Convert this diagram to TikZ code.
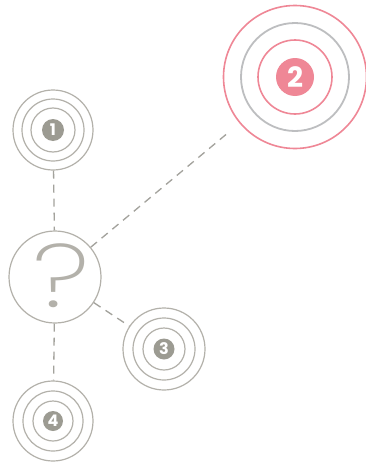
\documentclass[tikz,border=0pt]{standalone}
\usepackage{fontspec}
\setmainfont{Poppins}
\newfontfamily\qfont{Poppins ExtraLight}
\definecolor{ringgray}{HTML}{B3B1AA}
\definecolor{discgray}{HTML}{9C9B92}
\definecolor{pinkc}{HTML}{EF8796}
\definecolor{bluegray}{HTML}{BDBEC0}
\definecolor{dashgray}{HTML}{A3A29C}
\tikzset{
  ring/.style={circle, draw=ringgray, line width=1.2pt, inner sep=0pt, fill=none},
  disc/.style={circle, fill=discgray, inner sep=0pt, text=white, font=\bfseries\fontsize{16}{16}\selectfont},
  link/.style={draw=dashgray, line width=1.3pt, dash pattern=on 8pt off 6pt},
}
\begin{document}
\begin{tikzpicture}[x=1pt,y=-1pt]
\useasboundingbox[fill=white] (0,0) rectangle (365,463);
% node 1
\node[ring, minimum size=80pt] (n1) at (53,130) {};
\node[ring, minimum size=62pt] (n1b) at (53,130) {};
\node[ring, minimum size=44pt] (n1c) at (53,130) {};
\node[disc, minimum size=22pt] (n1d) at (53,130) {1};
% node 2
\node[circle, draw=pinkc, line width=1.6pt, inner sep=0pt, minimum size=143pt] (n2) at (295,77) {};
\node[circle, draw=bluegray, line width=1.8pt, inner sep=0pt, minimum size=108pt] (n2b) at (295,77) {};
\node[circle, draw=pinkc, line width=1.6pt, inner sep=0pt, minimum size=74pt] (n2c) at (295,77) {};
\node[circle, fill=pinkc, inner sep=0pt, minimum size=38pt, text=white, font=\bfseries\fontsize{28}{28}\selectfont] (n2d) at (295,77) {2};
% node 3
\node[ring, minimum size=82pt] (n3) at (164,349) {};
\node[ring, minimum size=62pt] (n3b) at (164,349) {};
\node[ring, minimum size=42pt] (n3c) at (164,349) {};
\node[disc, minimum size=21pt] (n3d) at (164,349) {3};
% node 4
\node[ring, minimum size=80pt] (n4) at (53,421) {};
\node[ring, minimum size=60pt] (n4b) at (53,421) {};
\node[ring, minimum size=40pt] (n4c) at (53,421) {};
\node[disc, minimum size=20pt] (n4d) at (53,421) {4};
% question
\node[ring, minimum size=92pt] (q) at (55,277) {};
\node[text=ringgray, font=\qfont\fontsize{90}{90}\selectfont, inner sep=0pt, xscale=1.25] (qm) at (61,276) {?};
% links
\draw[link] (n1) -- (q);
\draw[link, shorten >=12pt] (q) -- (n2);
\draw[link] (q) -- (n3);
\draw[link] (q) -- (n4);
\end{tikzpicture}
\end{document}
